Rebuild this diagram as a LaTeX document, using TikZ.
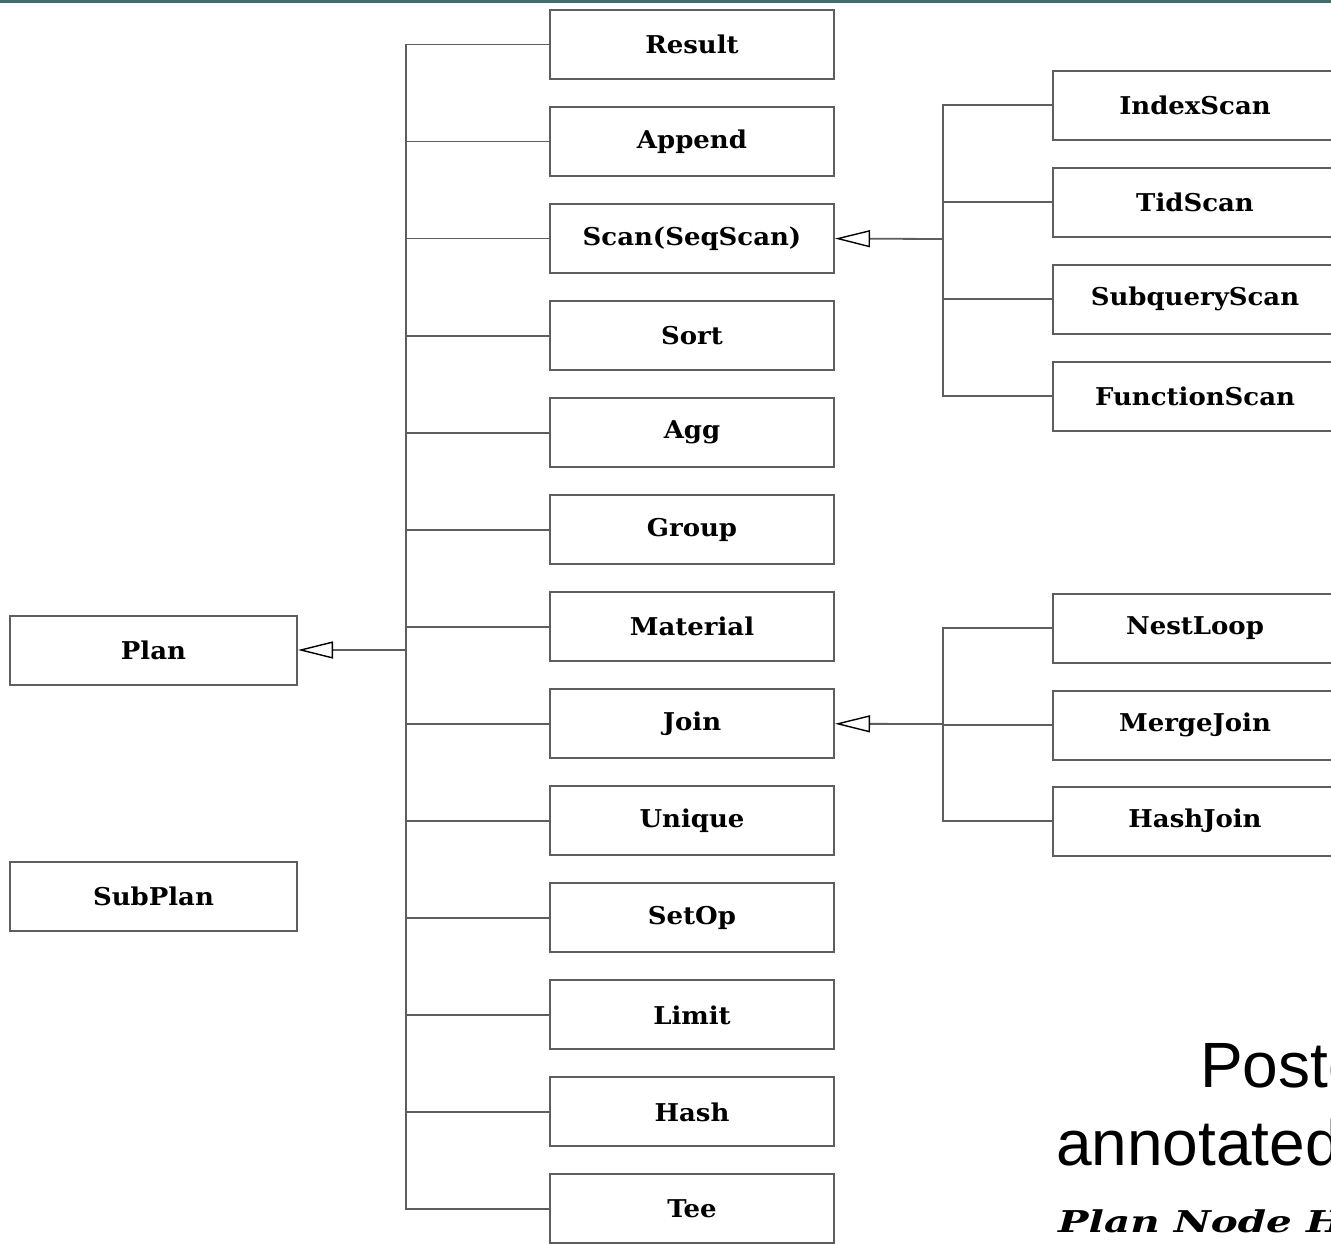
\documentclass[tikz,border=0pt]{standalone}
\usepackage{fontspec}
\setmainfont{DejaVu Serif}
\newfontfamily\boxfont[FakeStretch=1.06]{DejaVu Serif}
\newfontfamily\titlefont[FakeStretch=1.35]{DejaVu Serif}
\newfontfamily\capfont{Liberation Sans}
\usetikzlibrary{arrows.meta}
\definecolor{frame}{HTML}{5E5E5E}
\definecolor{bar}{HTML}{3D6E72}
\tikzset{
  cls/.style={draw=frame, line width=2pt, fill=white, minimum width=284pt,
    minimum height=69pt, inner sep=0pt,
    font=\boxfont\bfseries\fontsize{24.5}{24.5}\selectfont},
  conn/.style={draw=frame, line width=1.8pt},
  inherit/.style={draw=frame, line width=1.8pt,
    -{Triangle[open,length=35pt,width=17pt,line width=1.4pt,color=black]}},
}
\begin{document}
\begin{tikzpicture}[x=1pt,y=-1pt]
\clip (0,0) rectangle (1331,1243);
\fill[white] (0,0) rectangle (1331,1243);
\fill[bar] (0,0) rectangle (1331,2.5);

% base classes
\node[cls, minimum width=287pt] (plan) at (153.5,650) {Plan};
\node[cls, minimum width=287pt] (subplan) at (153.5,896.5) {SubPlan};

% direct subclasses of Plan
\foreach \n/\t [count=\i from 0] in {result/Result, append/Append, scan/Scan(SeqScan),
    sort/Sort, agg/Agg, group/Group, material/Material, join/Join, unique/Unique,
    setop/SetOp, limit/Limit, hash/Hash, tee/Tee}
  \node[cls] (\n) at (692,44.5+97.04*\i) {\t};

% subclasses of Scan
\node[cls] (indexscan) at (1195,105) {IndexScan};
\node[cls] (tidscan) at (1195,202) {TidScan};
\node[cls] (subqueryscan) at (1195,299) {SubqueryScan};
\node[cls] (functionscan) at (1195,396) {FunctionScan};

% subclasses of Join
\node[cls] (nestloop) at (1195,628) {NestLoop};
\node[cls] (mergejoin) at (1195,725) {MergeJoin};
\node[cls] (hashjoin) at (1195,821) {HashJoin};

% Plan hierarchy bus
\coordinate (pj) at (406,650);
\draw[inherit] (pj) -- (plan.east);
\foreach \n in {result, append, scan, sort, agg, group, material, join, unique,
    setop, limit, hash, tee}
  \draw[conn] (pj) |- (\n.west);

% Scan hierarchy bus
\coordinate (sj) at (943,239);
\draw[inherit] (sj) -- (scan.east);
\foreach \n in {indexscan, tidscan, subqueryscan, functionscan}
  \draw[conn] (sj) |- (\n.west);

% Join hierarchy bus
\coordinate (jj) at (943,724);
\draw[inherit] (jj) -- (join.east);
\foreach \n in {nestloop, mergejoin, hashjoin}
  \draw[conn] (jj) |- (\n.west);

% caption
\node[anchor=base west, inner sep=0pt, font=\capfont\fontsize{64}{64}\selectfont]
  (cap1) at (1200,1087) {Postg};
\node[anchor=base west, inner sep=0pt, font=\capfont\fontsize{64}{64}\selectfont]
  (cap2) at (1056,1165) {annotated};
\node[anchor=base west, inner sep=0pt, font=\titlefont\bfseries\itshape\fontsize{30}{30}\selectfont]
  (cap3) at (1058,1232) {Plan Node H};
\end{tikzpicture}
\end{document}
